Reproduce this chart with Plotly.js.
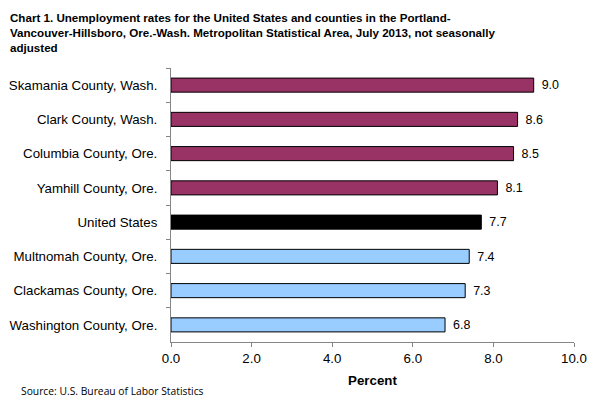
<!DOCTYPE html>
<html>
<head>
<meta charset="utf-8">
<script src="https://cdn.plot.ly/plotly-3.0.1.min.js"></script>
<style>html,body{margin:0;padding:0;background:#fff;}#chart{width:603px;height:403px;}</style>
</head>
<body>
<div id="chart"></div>
<script>
var categories = ["Skamania County, Wash.", "Clark County, Wash.", "Columbia County, Ore.", "Yamhill County, Ore.", "United States", "Multnomah County, Ore.", "Clackamas County, Ore.", "Washington County, Ore."];
var rates = [9.0, 8.6, 8.5, 8.1, 7.7, 7.4, 7.3, 6.8];
var groups = ["wash", "wash", "ore", "ore", "us", "ore2", "ore2", "ore2"];
var xTicks = [0, 2, 4, 6, 8, 10];
var xTickLabels = ["0.0", "2.0", "4.0", "6.0", "8.0", "10.0"];

var colorMap = {wash: "#993366", ore: "#993366", us: "#000000", ore2: "#99CCFF"};
var colors = groups.map(function(g){ return colorMap[g]; });

var trace = {
  type: "bar",
  orientation: "h",
  y: categories,
  x: rates,
  marker: {color: colors, line: {color: "#000000", width: 1}},
  text: rates.map(function(v){ return "\u2009\u2009" + v.toFixed(1); }),
  textposition: "outside",
  textfont: {family: "Liberation Sans, Arial, sans-serif", size: 13.3, color: "#000"},
  cliponaxis: false,
  hoverinfo: "none"
};

var layout = {
  width: 603, height: 403,
  margin: {l: 171, r: 29, t: 68, b: 61},
  paper_bgcolor: "#fff", plot_bgcolor: "#fff",
  showlegend: false,
  bargap: 0.59,
  font: {family: "Liberation Sans, Arial, sans-serif", size: 13.3, color: "#000"},
  xaxis: {
    range: [0, 10],
    tickvals: xTicks, ticktext: xTickLabels,
    showgrid: false, zeroline: false,
    showline: true, linecolor: "#868686", linewidth: 1,
    ticks: "outside", ticklen: 4, tickcolor: "#868686",
    tickfont: {size: 13.3},
    title: {text: "<b>Percent</b>", font: {size: 13.3}, standoff: 10},
    fixedrange: true
  },
  yaxis: {
    autorange: "reversed",
    showgrid: false, zeroline: false,
    showline: true, linecolor: "#868686", linewidth: 1,
    ticks: "outside", ticklen: 4, tickcolor: "#868686",
    tickson: "boundaries",
    ticklabelstandoff: 10,
    tickfont: {size: 13.3},
    fixedrange: true
  },
  annotations: [
    {
      xref: "paper", yref: "paper", x: -163/403, y: 1, yshift: 59,
      xanchor: "left", yanchor: "top", align: "left", showarrow: false,
      text: "<b>Chart 1. Unemployment rates for the United States and counties in the Portland-<br>Vancouver-Hillsboro, Ore.-Wash. Metropolitan Statistical Area, July 2013, not seasonally<br>adjusted</b>",
      font: {family: "Liberation Sans, Arial, sans-serif", size: 11.6, color: "#000"}
    },
    {
      xref: "paper", yref: "paper", x: -152/403, y: 0, yshift: -40,
      xanchor: "left", yanchor: "top", align: "left", showarrow: false,
      text: "Source: U.S. Bureau of Labor Statistics",
      font: {family: "Open Sans, DejaVu Sans, sans-serif", size: 10.3, color: "#000"}
    }
  ]
};

Plotly.newPlot("chart", [trace], layout, {staticPlot: true, displayModeBar: false});
</script>
</body>
</html>
